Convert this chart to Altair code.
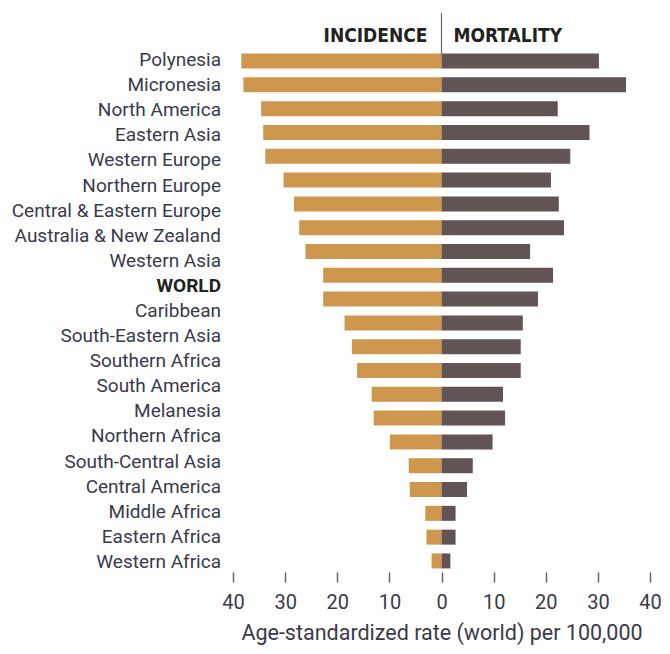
import altair as alt
import pandas as pd

# Region labels (21 labels as printed on the chart)
regions = [
    "Polynesia", "Micronesia", "North America", "Eastern Asia", "Western Europe",
    "Northern Europe", "Central & Eastern Europe", "Australia & New Zealand",
    "Western Asia", "WORLD", "Caribbean", "South-Eastern Asia", "Southern Africa",
    "South America", "Melanesia", "Northern Africa", "South-Central Asia",
    "Central America", "Middle Africa", "Eastern Africa", "Western Africa",
]

# Bar rows as drawn (22 bar pairs in the picture)
bar_rows = [1, 2, 3, 4, 5, 6, 7, 8, 9, 10, 11, 12, 13, 14, 15, 16, 17, 18, 19, 20, 21, 22]
incidence = [38.4, 38.0, 34.6, 34.2, 33.8, 30.3, 28.3, 27.3, 26.1, 22.7, 22.7,
             18.6, 17.2, 16.2, 13.4, 13.0, 9.9, 6.3, 6.1, 3.1, 2.9, 1.9]
mortality = [30.2, 35.4, 22.3, 28.4, 24.7, 21.0, 22.5, 23.5, 17.0, 21.4, 18.5,
             15.6, 15.2, 15.2, 11.8, 12.2, 9.8, 6.0, 4.9, 2.7, 2.7, 1.7]

x_ticks = [-40, -30, -20, -10, 0, 10, 20, 30, 40]
headers = ["INCIDENCE", "MORTALITY"]

INC_COLOR = "#CF974D"
MORT_COLOR = "#625354"
TEXT_COLOR = "#3a3a4a"
FONT = "Roboto"
HEAD_FONT = "Liberation Sans Narrow, DejaVu Sans Condensed, Roboto"

rows = []
for r, v in zip(bar_rows, incidence):
    rows.append({"row": r, "measure": "Incidence", "value": -v})
for r, v in zip(bar_rows, mortality):
    rows.append({"row": r, "measure": "Mortality", "value": v})
bars_df = pd.DataFrame(rows)

labels_df = pd.DataFrame({"region": regions})

x_enc = alt.X(
    "value:Q",
    scale=alt.Scale(domain=[-40, 40], nice=False, zero=False),
    axis=alt.Axis(
        values=x_ticks,
        labelExpr="abs(datum.value)",
        title="Age-standardized rate (world) per 100,000",
        grid=False,
        domain=False,
        ticks=True,
        tickSize=10,
        tickWidth=1.5,
        tickColor="#666666",
        labelFont=FONT,
        labelFontSize=20,
        labelColor=TEXT_COLOR,
        labelPadding=10,
        labelFlush=False,
        titleFont=FONT,
        titleFontSize=21.5,
        titleFontWeight="normal",
        titleColor=TEXT_COLOR,
        titlePadding=10,
    ),
)

bars = alt.Chart(bars_df).mark_bar().encode(
    x=x_enc,
    y=alt.Y(
        "row:O",
        sort="ascending",
        scale=alt.Scale(paddingInner=0.37, paddingOuter=0.15),
        axis=None,
    ),
    color=alt.Color(
        "measure:N",
        scale=alt.Scale(domain=["Incidence", "Mortality"], range=[INC_COLOR, MORT_COLOR]),
        legend=None,
    ),
)

label_y = alt.Y(
    "region:N",
    sort=regions,
    scale=alt.Scale(domain=regions, padding=0.4),
    axis=None,
)

labels_normal = alt.Chart(labels_df).transform_filter(
    alt.datum.region != "WORLD"
).mark_text(
    align="right", baseline="middle", font=FONT, fontSize=19, color=TEXT_COLOR
).encode(
    x=alt.value(-12),
    y=label_y,
    text="region:N",
)

labels_bold = alt.Chart(labels_df).transform_filter(
    alt.datum.region == "WORLD"
).mark_text(
    align="right", baseline="middle", font=FONT, fontSize=19, fontWeight="bold", color="#222222"
).encode(
    x=alt.value(-12),
    y=label_y,
    text="region:N",
)

labels = alt.layer(labels_normal, labels_bold)

head_df = pd.DataFrame({"header": headers})

head_left = alt.Chart(head_df).transform_filter(
    alt.datum.header == "INCIDENCE"
).mark_text(
    align="right", baseline="alphabetic", font=HEAD_FONT, fontSize=19,
    fontWeight="bold", color="#222222", dx=-14
).encode(x=alt.datum(0), y=alt.value(-8.5), text="header:N")

head_right = alt.Chart(head_df).transform_filter(
    alt.datum.header == "MORTALITY"
).mark_text(
    align="left", baseline="alphabetic", font=HEAD_FONT, fontSize=19,
    fontWeight="bold", color="#222222", dx=12
).encode(x=alt.datum(0), y=alt.value(-8.5), text="header:N")

divider = alt.Chart(pd.DataFrame({"zero": [0]})).mark_rule(
    color="#666666", strokeWidth=1.2
).encode(x=alt.datum(0), y=alt.value(-37), y2=alt.value(4))

chart = alt.layer(bars, labels, head_left, head_right, divider).resolve_scale(
    y="independent"
).properties(
    width=417,
    height=522,
    autosize=alt.AutoSizeParams(type="none"),
    padding={"left": 225, "top": 42, "right": 12, "bottom": 74},
).configure_view(stroke=None)

chart.save("out.html", embed_options={"renderer": "svg", "actions": False})
